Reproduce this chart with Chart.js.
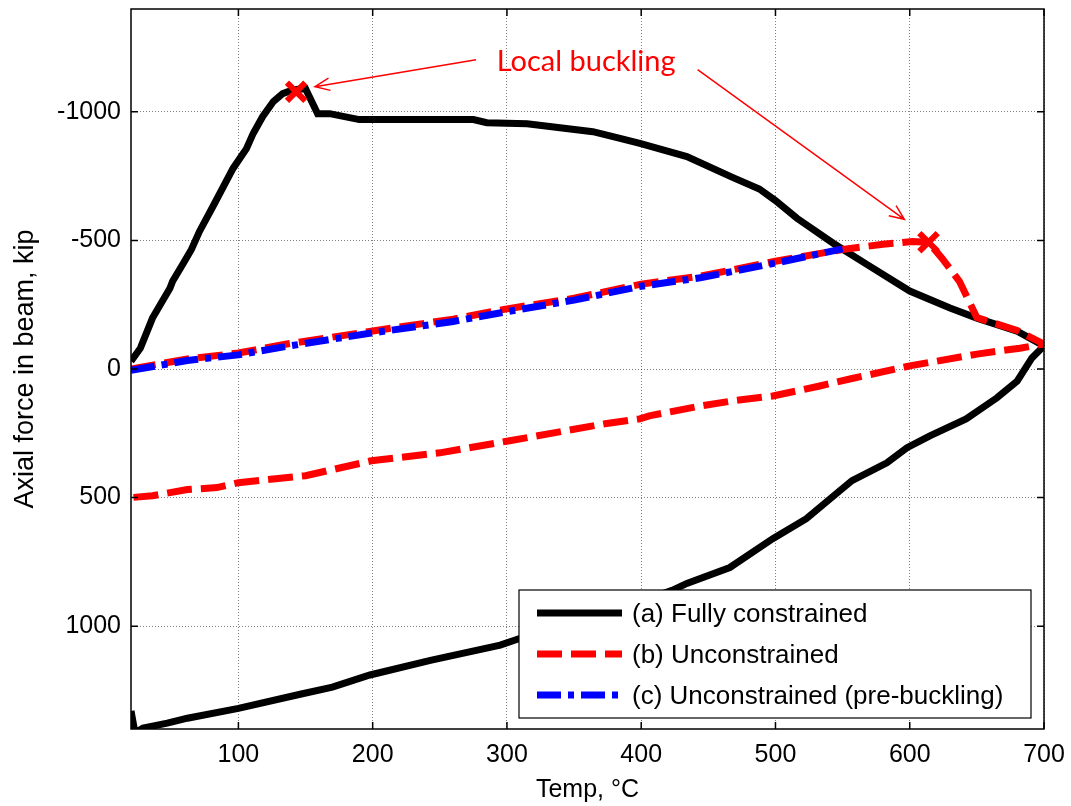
<!DOCTYPE html>
<html>
<head>
<meta charset="utf-8">
<script src="https://cdn.jsdelivr.net/npm/chart.js@4.4.0/dist/chart.umd.min.js"></script>
<style>
  body { margin: 0; background: #fff; }
  #wrap { width: 1071px; height: 806px; position: relative; }
</style>
</head>
<body>
<div id="wrap"><canvas id="c"></canvas></div>
<script>
// (a) fully constrained: heating 20 -> 700, then cooling back to 20
var fullTemp  = [20, 27, 36, 49, 51, 59, 65, 71, 81, 96, 106, 111, 118, 126, 133, 141, 150, 159, 168, 190, 220, 275, 285, 315, 364, 382, 399, 434, 468, 488, 500, 516, 543, 568, 600, 630, 650, 680, 700,
                 691, 680, 665, 642, 615, 598, 583, 557, 548, 523, 498, 466, 434, 423, 370, 310, 295, 243, 198, 190, 170, 146, 100, 62, 47, 29, 23, 20];
var fullForce = [-30, -81, -198, -314, -341, -411, -465, -535, -632, -780, -857, -916, -981, -1040, -1071, -1086, -1090, -993, -993, -970, -970, -970, -958, -954, -923, -900, -877, -826, -745, -700, -655, -586, -489, -407, -303, -237, -198, -147, -90,
                 -43, 47, 112, 194, 260, 306, 365, 434, 473, 582, 660, 772, 834, 861, 960, 1047, 1074, 1133, 1190, 1203, 1237, 1265, 1320, 1358, 1377, 1396, 1415, 1330];
// (b) unconstrained
var unconTemp  = [20, 36, 62, 100, 136, 199, 260, 299, 350, 400, 444, 500, 550, 580, 602, 614, 624, 637, 650, 680, 700,
                  682, 650, 600, 557, 533, 498, 468, 444, 406, 399, 373, 302, 250, 199, 150, 100, 84, 62, 36, 20];
var unconForce = [0, -15, -39, -62, -97, -147, -194, -233, -275, -330, -361, -419, -465, -485, -496, -493, -431, -341, -200, -150, -97,
                  -81, -58, -12, 37, 66, 105, 124, 144, 182, 194, 213, 279, 326, 357, 415, 442, 461, 469, 493, 500];
// (c) unconstrained, pre-buckling part
var preTemp  = [20, 62, 100, 136, 199, 260, 299, 350, 400, 444, 500, 550];
var preForce = [5, -33, -55, -88, -140, -185, -222, -268, -322, -355, -412, -467];
// local buckling points
var buckTemp  = [143, 614];
var buckForce = [-1078, -493];

var xTicks = [100, 200, 300, 400, 500, 600, 700];
var yTicks = [-1000, -500, 0, 500, 1000];
var seriesNames = ["(a) Fully constrained", "(b) Unconstrained", "(c) Unconstrained (pre-buckling)"];

function pts(xs, ys) {
  return xs.map(function (x, i) { return { x: x, y: ys[i] }; });
}

// text + arrows, in data units
var note = { text: "Local buckling", x: 359, y: -1195,
  arrows: [ [277, -1203, 157, -1098], [442, -1164, 596, -582] ] };

var framePlugin = {
  id: 'frame',
  afterDatasetsDraw: function (chart) {
    var ctx = chart.ctx, a = chart.chartArea;
    var xs = chart.scales.x, ys = chart.scales.y;
    ctx.save();
    // box
    ctx.strokeStyle = '#000';
    ctx.lineWidth = 1.5;
    ctx.strokeRect(a.left, a.top, a.right - a.left, a.bottom - a.top);
    // inward ticks
    xTicks.forEach(function (v) {
      var px = xs.getPixelForValue(v);
      ctx.beginPath();
      ctx.moveTo(px, a.bottom); ctx.lineTo(px, a.bottom - 7);
      ctx.moveTo(px, a.top); ctx.lineTo(px, a.top + 7);
      ctx.stroke();
    });
    yTicks.forEach(function (v) {
      var py = ys.getPixelForValue(v);
      ctx.beginPath();
      ctx.moveTo(a.left, py); ctx.lineTo(a.left + 7, py);
      ctx.moveTo(a.right, py); ctx.lineTo(a.right - 7, py);
      ctx.stroke();
    });

    // legend box
    var lx = a.right - 525, ly = a.bottom - 139, lw = 525 - 13, lh = 128;
    ctx.fillStyle = '#fff';
    ctx.fillRect(lx, ly, lw, lh);
    ctx.lineWidth = 1.2;
    ctx.strokeRect(lx, ly, lw, lh);
    ctx.font = '26px "Liberation Sans", Arial, sans-serif';
    ctx.textBaseline = 'middle';
    ctx.textAlign = 'left';
    for (var i = 0; i < 3; i++) {
      var ds = chart.data.datasets[i];
      var yy = ly + 23 + i * 41;
      ctx.save();
      ctx.strokeStyle = ds.borderColor;
      ctx.lineWidth = ds.borderWidth;
      ctx.setLineDash(ds.borderDash || []);
      ctx.beginPath();
      ctx.moveTo(lx + 18, yy); ctx.lineTo(lx + 103, yy);
      ctx.stroke();
      ctx.restore();
      ctx.fillStyle = '#000';
      ctx.fillText(seriesNames[i], lx + 113, yy + 2);
    }

    // annotation
    ctx.strokeStyle = '#ff0000';
    ctx.fillStyle = '#ff0000';
    ctx.lineWidth = 1.5;
    note.arrows.forEach(function (ar) {
      var x0 = xs.getPixelForValue(ar[0]), y0 = ys.getPixelForValue(ar[1]);
      var x1 = xs.getPixelForValue(ar[2]), y1 = ys.getPixelForValue(ar[3]);
      var ang = Math.atan2(y1 - y0, x1 - x0);
      ctx.beginPath();
      ctx.moveTo(x0, y0); ctx.lineTo(x1, y1);
      ctx.moveTo(x1 - 16 * Math.cos(ang - 0.4), y1 - 16 * Math.sin(ang - 0.4));
      ctx.lineTo(x1, y1);
      ctx.lineTo(x1 - 16 * Math.cos(ang + 0.4), y1 - 16 * Math.sin(ang + 0.4));
      ctx.stroke();
    });
    ctx.font = '29px Lato, "Open Sans", sans-serif';
    ctx.textAlign = 'center';
    ctx.textBaseline = 'middle';
    ctx.fillText(note.text, xs.getPixelForValue(note.x), ys.getPixelForValue(note.y));
    ctx.restore();
  }
};

var tickFont = { family: '"Liberation Sans", Arial, sans-serif', size: 25 };
var titleFont = { family: '"Liberation Sans", Arial, sans-serif', size: 27 };

new Chart(document.getElementById('c'), {
  type: 'scatter',
  data: {
    datasets: [
      { label: seriesNames[0], data: pts(fullTemp, fullForce), showLine: true,
        borderColor: '#000000', backgroundColor: '#000000', borderWidth: 7, pointRadius: 0, order: 3 },
      { label: seriesNames[1], data: pts(unconTemp, unconForce), showLine: true,
        borderColor: '#ff0000', backgroundColor: '#ff0000', borderWidth: 7, borderDash: [25, 9], pointRadius: 0, order: 2 },
      { label: seriesNames[2], data: pts(preTemp, preForce), showLine: true,
        borderColor: '#0000ff', backgroundColor: '#0000ff', borderWidth: 7, borderDash: [24, 7, 6, 7], pointRadius: 0, order: 1 },
      { label: 'buckling', data: pts(buckTemp, buckForce), showLine: false,
        pointStyle: 'crossRot', pointRadius: 13, pointBorderWidth: 6, borderColor: '#ff0000', backgroundColor: '#ff0000', order: 0 }
    ]
  },
  options: {
    responsive: true,
    maintainAspectRatio: false,
    animation: false,
    layout: { autoPadding: false, padding: { top: 9, right: 27, left: 0, bottom: 0 } },
    plugins: { legend: { display: false }, tooltip: { enabled: false } },
    scales: {
      x: {
        type: 'linear', min: 20, max: 700,
        afterFit: function (s) { s.height = 77; s.paddingLeft = 0; s.paddingRight = 0; },
        afterBuildTicks: function (s) { s.ticks = xTicks.map(function (v) { return { value: v }; }); },
        grid: { color: 'rgba(0,0,0,0.5)', lineWidth: 1, drawTicks: false },
        border: { display: false, dash: [1, 2] },
        ticks: { font: tickFont, color: '#000', padding: 11, maxRotation: 0, callback: function (v) { return String(v); } },
        title: { display: true, text: 'Temp, \u00B0C', font: tickFont, color: '#000', padding: { top: 0, bottom: 1 } }
      },
      y: {
        type: 'linear', min: -1400, max: 1400, reverse: true,
        afterFit: function (s) { s.width = 131; s.paddingTop = 0; s.paddingBottom = 0; },
        afterBuildTicks: function (s) { s.ticks = yTicks.map(function (v) { return { value: v }; }); },
        grid: { color: 'rgba(0,0,0,0.5)', lineWidth: 1, drawTicks: false },
        border: { display: false, dash: [1, 2] },
        ticks: { font: tickFont, color: '#000', padding: 10, callback: function (v) { return String(v); } },
        title: { display: true, text: 'Axial force in beam, kip', font: titleFont, color: '#000', padding: { top: 9, bottom: 0 } }
      }
    }
  },
  plugins: [framePlugin]
});
</script>
</body>
</html>
